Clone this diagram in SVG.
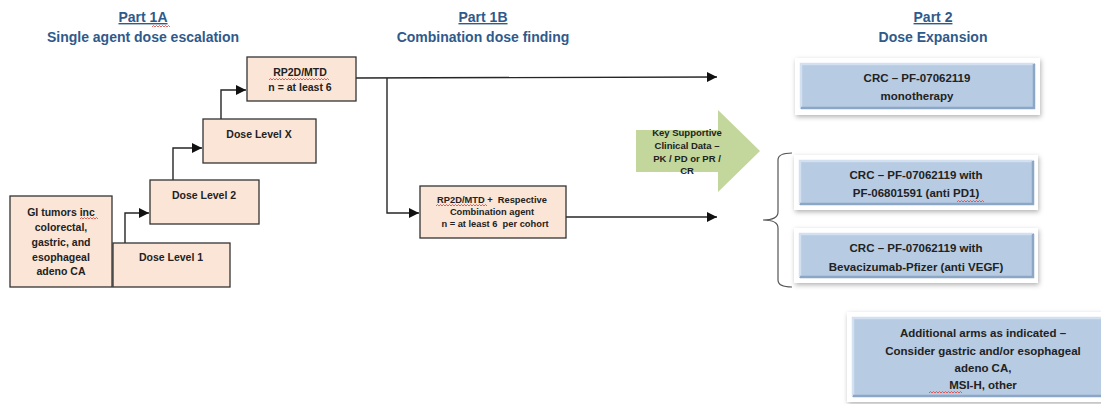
<svg xmlns="http://www.w3.org/2000/svg" width="1101" height="404" viewBox="0 0 1101 404">
<defs>
<style>
.title{font-family:"Liberation Sans",Arial,sans-serif;font-weight:bold;font-size:14px;fill:#2F5A8C;text-anchor:middle}
.bt{font-family:"Liberation Sans",Arial,sans-serif;font-weight:bold;fill:#222;text-anchor:middle;dominant-baseline:central}
.peach{fill:#FBE5D6;stroke:#333;stroke-width:1.3}
.conn{fill:none;stroke:#262626;stroke-width:1.4}
.sq{fill:none;stroke:#E0403A;stroke-width:0.8}
.frame{fill:#fff}
.blue{fill:#B7CBE3}
.hi{fill:none;stroke:#D3E0F0;stroke-width:2.5}
.lo{fill:none;stroke:#8CA6C5;stroke-width:2.5}
</style>
<marker id="ah" viewBox="0 0 10 10" refX="10" refY="5" markerWidth="10" markerHeight="10" markerUnits="userSpaceOnUse" orient="auto">
<path d="M0,0 L10,5 L0,10 z" fill="#111"/>
</marker>
<filter id="sh" x="-10%" y="-30%" width="120%" height="160%">
<feDropShadow dx="1" dy="2" stdDeviation="2.5" flood-color="#000" flood-opacity="0.3"/>
</filter>
</defs>
<rect width="1101" height="404" fill="#fff"/>

<g id="titles">
<text class="title" x="143" y="22" text-decoration="underline">Part 1A</text>
<text class="title" x="143" y="42">Single agent dose escalation</text>
<path class="sq" d="M152,27 l1.5,-1.5 l1.5,1.5 l1.5,-1.5 l1.5,1.5 l1.5,-1.5 l1.5,1.5 l1.5,-1.5 l1.5,1.5 l1.5,-1.5 l1.5,1.5 l1.5,-1.5 l1.5,1.5"/>
<text class="title" x="483" y="22" text-decoration="underline">Part 1B</text>
<text class="title" x="483" y="42">Combination dose finding</text>
<text class="title" x="933" y="22" text-decoration="underline">Part 2</text>
<text class="title" x="933" y="42">Dose Expansion</text>
</g>

<g id="connectors">
<path class="conn" d="M125,243 V213 H149" marker-end="url(#ah)"/>
<path class="conn" d="M173,180 V148 H202" marker-end="url(#ah)"/>
<path class="conn" d="M221,119 V90 H246" marker-end="url(#ah)"/>
<path class="conn" d="M356,78 L717,77" marker-end="url(#ah)"/>
<path class="conn" d="M387,78 V213 H419" marker-end="url(#ah)"/>
<path class="conn" d="M566,217 H717" marker-end="url(#ah)"/>
<path d="M792,153 Q778,153 778,160 L778,212 Q778,220 763,220 Q778,220 778,228 L778,280 Q778,287 792,287" fill="none" stroke="#555" stroke-width="1.2"/>
</g>

<g id="gi-tumors">
<rect class="peach" x="10" y="196" width="102" height="91"/>
<text class="bt" font-size="10.5" x="61" y="212">GI tumors inc</text>
<text class="bt" font-size="10.5" x="61" y="227">colorectal,</text>
<text class="bt" font-size="10.5" x="61" y="242">gastric, and</text>
<text class="bt" font-size="10.5" x="61" y="257">esophageal</text>
<text class="bt" font-size="10.5" x="61" y="271">adeno CA</text>
<path class="sq" d="M80,219 l1.5,-1.5 l1.5,1.5 l1.5,-1.5 l1.5,1.5 l1.5,-1.5 l1.5,1.5 l1.5,-1.5 l1.5,1.5 l1.5,-1.5 l1.5,1.5 l1.5,-1.5 l1.5,1.5"/>
</g>

<g id="dose-level-1">
<rect class="peach" x="113" y="243" width="117" height="44"/>
<text class="bt" font-size="10.5" x="171" y="257">Dose Level 1</text>
</g>

<g id="dose-level-2">
<rect class="peach" x="150" y="180" width="109" height="44"/>
<text class="bt" font-size="10.5" x="204" y="195">Dose Level 2</text>
</g>

<g id="dose-level-x">
<rect class="peach" x="203" y="119" width="113" height="44"/>
<text class="bt" font-size="10.5" x="259" y="134">Dose Level X</text>
</g>

<g id="rp2d-mtd">
<rect class="peach" x="247" y="57" width="109" height="44"/>
<text class="bt" font-size="10.5" x="300" y="72">RP2D/MTD</text>
<text class="bt" font-size="10.5" x="300" y="87">n = at least 6</text>
<path class="sq" d="M269,80 l1.5,-1.5 l1.5,1.5 l1.5,-1.5 l1.5,1.5 l1.5,-1.5 l1.5,1.5 l1.5,-1.5 l1.5,1.5 l1.5,-1.5 l1.5,1.5 l1.5,-1.5 l1.5,1.5 l1.5,-1.5 l1.5,1.5 l1.5,-1.5 l1.5,1.5 l1.5,-1.5 l1.5,1.5 l1.5,-1.5 l1.5,1.5 l1.5,-1.5 l1.5,1.5 l1.5,-1.5 l1.5,1.5 l1.5,-1.5 l1.5,1.5 l1.5,-1.5 l1.5,1.5 l1.5,-1.5 l1.5,1.5 l1.5,-1.5 l1.5,1.5 l1.5,-1.5 l1.5,1.5 l1.5,-1.5 l1.5,1.5 l1.5,-1.5 l1.5,1.5 l1.5,-1.5 l1.5,1.5"/>
</g>

<g id="combination">
<rect class="peach" x="420" y="186" width="146" height="52"/>
<text class="bt" font-size="9.3" x="492" y="200" xml:space="preserve">RP2D/MTD +  Respective</text>
<text class="bt" font-size="9.3" x="492" y="212">Combination agent</text>
<text class="bt" font-size="9.3" x="495" y="224" xml:space="preserve">n = at least 6  per cohort</text>
<path class="sq" d="M436,206 l1.5,-1.5 l1.5,1.5 l1.5,-1.5 l1.5,1.5 l1.5,-1.5 l1.5,1.5 l1.5,-1.5 l1.5,1.5 l1.5,-1.5 l1.5,1.5 l1.5,-1.5 l1.5,1.5 l1.5,-1.5 l1.5,1.5 l1.5,-1.5 l1.5,1.5 l1.5,-1.5 l1.5,1.5 l1.5,-1.5 l1.5,1.5 l1.5,-1.5 l1.5,1.5 l1.5,-1.5 l1.5,1.5 l1.5,-1.5 l1.5,1.5 l1.5,-1.5 l1.5,1.5 l1.5,-1.5 l1.5,1.5 l1.5,-1.5 l1.5,1.5 l1.5,-1.5 l1.5,1.5"/>
</g>

<g id="key-supportive">
<polygon points="636,130 718,130 718,110 760,151 718,192 718,172 636,172" fill="#C3D69B"/>
<text class="bt" font-size="9.5" x="687" y="132">Key Supportive</text>
<text class="bt" font-size="9.5" x="687" y="145">Clinical Data –</text>
<text class="bt" font-size="9.5" x="687" y="158">PK / PD or PR /</text>
<text class="bt" font-size="9.5" x="687" y="170">CR</text>
</g>

<g id="crc-mono">
<rect class="frame" x="795" y="58" width="245" height="57" filter="url(#sh)"/>
<rect class="blue" x="800" y="63" width="235" height="46"/>
<path class="hi" d="M801,108 V64 H1034"/>
<path class="lo" d="M801,108 H1034 V64"/>
<text class="bt" font-size="11.5" x="917" y="78">CRC – PF-07062119</text>
<text class="bt" font-size="11.5" x="917" y="96">monotherapy</text>
</g>

<g id="crc-pd1">
<rect class="frame" x="794" y="155" width="244" height="55" filter="url(#sh)"/>
<rect class="blue" x="799" y="160" width="235" height="45"/>
<path class="hi" d="M800,204 V161 H1033"/>
<path class="lo" d="M800,204 H1033 V161"/>
<text class="bt" font-size="11.5" x="916" y="175">CRC – PF-07062119 with</text>
<text class="bt" font-size="11.5" x="916" y="193">PF-06801591 (anti PD1)</text>
<path class="sq" d="M957,202 l1.5,-1.5 l1.5,1.5 l1.5,-1.5 l1.5,1.5 l1.5,-1.5 l1.5,1.5 l1.5,-1.5 l1.5,1.5 l1.5,-1.5 l1.5,1.5 l1.5,-1.5 l1.5,1.5 l1.5,-1.5 l1.5,1.5 l1.5,-1.5 l1.5,1.5 l1.5,-1.5 l1.5,1.5"/>
</g>

<g id="crc-bev">
<rect class="frame" x="794" y="228" width="244" height="55" filter="url(#sh)"/>
<rect class="blue" x="799" y="233" width="235" height="45"/>
<path class="hi" d="M800,277 V234 H1033"/>
<path class="lo" d="M800,277 H1033 V234"/>
<text class="bt" font-size="11.5" x="916" y="248">CRC – PF-07062119 with</text>
<text class="bt" font-size="11.5" x="916" y="267">Bevacizumab-Pfizer (anti VEGF)</text>
</g>

<g id="additional-arms">
<rect class="frame" x="847" y="312" width="260" height="90" filter="url(#sh)"/>
<rect class="blue" x="852" y="317" width="252" height="80"/>
<path class="hi" d="M853,396 V318 H1104"/>
<path class="lo" d="M853,396 H1104"/>
<text class="bt" font-size="11.5" x="983" y="333">Additional arms as indicated –</text>
<text class="bt" font-size="11.5" x="983" y="351">Consider gastric and/or esophageal</text>
<text class="bt" font-size="11.5" x="983" y="368">adeno CA,</text>
<text class="bt" font-size="11.5" x="983" y="385">MSI-H, other</text>
<path class="sq" d="M929,393 l1.5,-1.5 l1.5,1.5 l1.5,-1.5 l1.5,1.5 l1.5,-1.5 l1.5,1.5 l1.5,-1.5 l1.5,1.5 l1.5,-1.5 l1.5,1.5 l1.5,-1.5 l1.5,1.5 l1.5,-1.5 l1.5,1.5 l1.5,-1.5 l1.5,1.5 l1.5,-1.5 l1.5,1.5 l1.5,-1.5 l1.5,1.5 l1.5,-1.5 l1.5,1.5"/>
</g>
</svg>
